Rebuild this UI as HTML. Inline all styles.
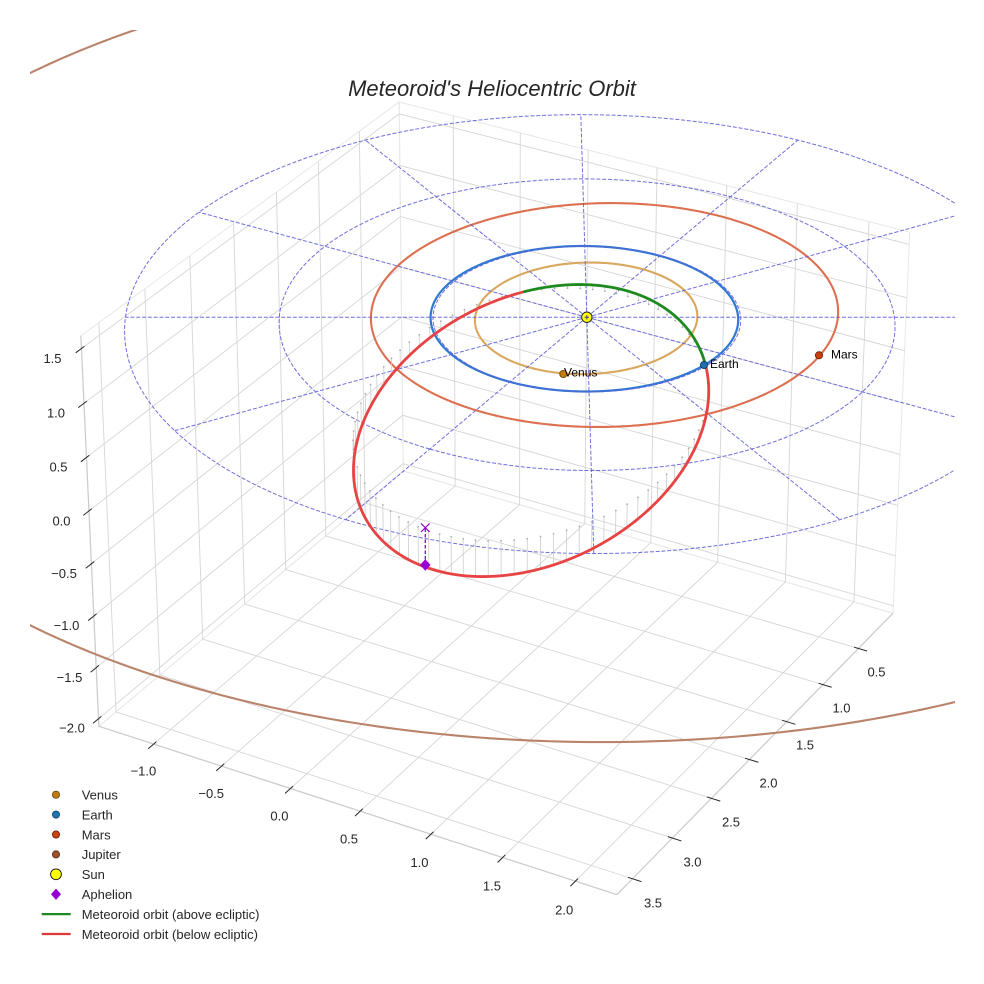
<!DOCTYPE html>
<html><head><meta charset="utf-8"><title>Meteoroid's Heliocentric Orbit</title>
<style>
html,body{margin:0;padding:0;background:#fff;width:984px;height:984px;overflow:hidden}
svg{display:block}
text{font-family:"Liberation Sans",Arial,sans-serif;fill:#262626}
</style></head><body>
<svg id="svg" xmlns="http://www.w3.org/2000/svg" width="984" height="984" viewBox="0 0 984 984">
<defs><clipPath id="clip"><rect x="30" y="30" width="925" height="925"/></clipPath></defs>
<rect width="984" height="984" fill="#fff"/>
<g id="panes" fill="none"></g>
<g id="data" clip-path="url(#clip)" fill="none"></g>
<g id="ticks" stroke="#262626" stroke-width="1" fill="none"></g>

<text x="492" y="96" font-size="22" font-style="italic" text-anchor="middle">Meteoroid's Heliocentric Orbit</text>

<g font-size="13" text-anchor="middle">
<text x="52.5" y="363">1.5</text>
<text x="56" y="417.7">1.0</text>
<text x="58.5" y="471.4">0.5</text>
<text x="61.5" y="525.4">0.0</text>
<text x="64" y="578">−0.5</text>
<text x="66.5" y="630">−1.0</text>
<text x="69.5" y="682">−1.5</text>
<text x="72" y="732.4">−2.0</text>

<text x="876.5" y="676.4">0.5</text>
<text x="841.5" y="712.4">1.0</text>
<text x="805" y="749.7">1.5</text>
<text x="768.5" y="787.4">2.0</text>
<text x="731" y="826.7">2.5</text>
<text x="692.5" y="866.4">3.0</text>
<text x="653" y="907.7">3.5</text>

<text x="143.4" y="775.4">−1.0</text>
<text x="211.2" y="798">−0.5</text>
<text x="279.4" y="820.7">0.0</text>
<text x="349" y="843.4">0.5</text>
<text x="419.5" y="867">1.0</text>
<text x="491.9" y="890.4">1.5</text>
<text x="564.2" y="914.7">2.0</text>
</g>

<g id="legend">
<circle cx="56" cy="794.7" r="3.6" fill="#c27c12" stroke="#5e3c05" stroke-width="0.8"/>
<circle cx="56" cy="814.6" r="3.6" fill="#1f77b4" stroke="#0c3655" stroke-width="0.8"/>
<circle cx="56" cy="834.5" r="3.6" fill="#c8440f" stroke="#5c1e05" stroke-width="0.8"/>
<circle cx="56" cy="854.4" r="3.6" fill="#a0522d" stroke="#4e2713" stroke-width="0.8"/>
<circle cx="56" cy="874.3" r="5.4" fill="#ffff00" stroke="#111" stroke-width="0.9"/>
<path d="M56 888.5L61 894.2L56 899.9L51 894.2Z" fill="#9400d3"/>
<path d="M41.7 914.1H70.7" stroke="#1f8a1f" stroke-width="2.2"/>
<path d="M41.7 934H70.7" stroke="#e03838" stroke-width="2.2"/>
<g font-size="13">
<text x="81.7" y="799.5">Venus</text>
<text x="81.7" y="819.4">Earth</text>
<text x="81.7" y="839.3">Mars</text>
<text x="81.7" y="859.2">Jupiter</text>
<text x="81.7" y="879.1">Sun</text>
<text x="81.7" y="899">Aphelion</text>
<text x="81.7" y="918.9">Meteoroid orbit (above ecliptic)</text>
<text x="81.7" y="938.8">Meteoroid orbit (below ecliptic)</text>
</g>
</g>

<g id="plabels" font-size="12">
<text x="564" y="376.5" style="fill:#000">Venus</text>
<text x="710" y="368" style="fill:#000">Earth</text>
<text x="831" y="358.5" style="fill:#000">Mars</text>
</g>
</svg>
<script>
(function(){
const D2R=Math.PI/180;
const el=30*D2R, az=30*D2R;
const ce=Math.cos(el),se=Math.sin(el),ca=Math.cos(az),sa=Math.sin(az);
const U=[-sa,ca,0],V=[-se*ca,-se*sa,ce],W=[ce*ca,ce*sa,se];
const X0=0.002,X1=3.692,Y0=-1.408,Y1=2.282,Z0=-2.075,Z1=1.615;
const AS=[8/7,8/7,6/7];
const MID=[(X0+X1)/2,(Y0+Y1)/2,(Z0+Z1)/2];
const SC=[AS[0]/(X1-X0),AS[1]/(Y1-Y0),AS[2]/(Z1-Z0)];
const S=5194,CX=503,CY=480,DIST=10;
function dot(a,b){return a[0]*b[0]+a[1]*b[1]+a[2]*b[2];}
function cross(a,b){return [a[1]*b[2]-a[2]*b[1],a[2]*b[0]-a[0]*b[2],a[0]*b[1]-a[1]*b[0]];}
function sub(a,b){return [a[0]-b[0],a[1]-b[1],a[2]-b[2]];}
function toQ(x,y,z){return [(x-MID[0])*SC[0],(y-MID[1])*SC[1],(z-MID[2])*SC[2]];}
function PQ(q){const d=DIST-dot(q,W);return [CX+S*dot(q,U)/d,CY-S*dot(q,V)/d];}
function P(x,y,z){return PQ(toQ(x,y,z));}
function f(n){return n.toFixed(2);}
function path(pts){let s='';for(let i=0;i<pts.length;i++){s+=(i?'L':'M')+f(pts[i][0])+' '+f(pts[i][1]);}return s;}
function line(a,b,attrs){return '<path d="M'+f(a[0])+' '+f(a[1])+'L'+f(b[0])+' '+f(b[1])+'" '+attrs+'/>';}
function solveN(A,b){const n=b.length;const M=A.map((r,i)=>r.slice(0,n).concat([b[i]]));
 for(let c=0;c<n;c++){let p=c;for(let r=c+1;r<n;r++)if(Math.abs(M[r][c])>Math.abs(M[p][c]))p=r;
  const t=M[c];M[c]=M[p];M[p]=t;
  for(let r=0;r<n;r++){if(r===c)continue;const k=M[r][c]/M[c][c];for(let j=c;j<=n;j++)M[r][j]-=k*M[c][j];}}
 return M.map((r,i)=>r[n]/r[i]);}

/* ---------- panes & grid ---------- */
let g='';
const xt=[0.5,1,1.5,2,2.5,3,3.5], yt=[-1,-0.5,0,0.5,1,1.5,2], zt=[-2,-1.5,-1,-0.5,0,0.5,1,1.5];
const PE='stroke="#e8e8e8" stroke-width="1"';
const GC='stroke="#d6d6d6" stroke-width="0.9"';
g+='<path d="'+path([P(X0,Y0,Z0),P(X1,Y0,Z0),P(X1,Y1,Z0),P(X0,Y1,Z0)])+'Z" '+PE+'/>';
g+='<path d="'+path([P(X0,Y0,Z0),P(X0,Y1,Z0),P(X0,Y1,Z1),P(X0,Y0,Z1)])+'Z" '+PE+'/>';
g+='<path d="'+path([P(X0,Y0,Z0),P(X1,Y0,Z0),P(X1,Y0,Z1),P(X0,Y0,Z1)])+'Z" '+PE+'/>';
xt.forEach(x=>{g+='<path d="'+path([P(x,Y1,Z0),P(x,Y0,Z0),P(x,Y0,Z1)])+'" '+GC+'/>';});
yt.forEach(y=>{g+='<path d="'+path([P(X1,y,Z0),P(X0,y,Z0),P(X0,y,Z1)])+'" '+GC+'/>';});
zt.forEach(z=>{g+='<path d="'+path([P(X1,Y0,z),P(X0,Y0,z),P(X0,Y1,z)])+'" '+GC+'/>';});
const AX='stroke="#cbcbcb" stroke-width="1.2"';
g+=line(P(X0,Y1,Z0),P(X1,Y1,Z0),AX);
g+=line(P(X1,Y0,Z0),P(X1,Y1,Z0),AX);
g+=line(P(X1,Y0,Z0),P(X1,Y0,Z1),AX);
document.getElementById('panes').innerHTML=g;

/* ---------- ticks ---------- */
let t='';
const DL=(X1-X0)/12;
xt.forEach(x=>{t+=line(P(x,Y1-0.1*DL,Z0),P(x,Y1+0.2*DL,Z0),'');});
yt.forEach(y=>{t+=line(P(X1-0.1*DL,y,Z0),P(X1+0.2*DL,y,Z0),'');});
zt.forEach(z=>{t+=line(P(X1-0.1*DL,Y0,z),P(X1+0.2*DL,Y0,z),'');});
document.getElementById('ticks').innerHTML=t;

/* ---------- data ---------- */
let d='';
function orbit(a,e,inc,O,wb,n){
  const om=(wb-O)*D2R, i=inc*D2R, Om=O*D2R, p=a*(1-e*e), pts=[];
  for(let k=0;k<=n;k++){const nu=2*Math.PI*k/n, r=p/(1+e*Math.cos(nu)), th=om+nu;
    const x=r*(Math.cos(Om)*Math.cos(th)-Math.sin(Om)*Math.sin(th)*Math.cos(i));
    const y=r*(Math.sin(Om)*Math.cos(th)+Math.cos(Om)*Math.sin(th)*Math.cos(i));
    const z=r*Math.sin(th)*Math.sin(i);
    pts.push(P(x,y,z));}
  return pts;}
// Jupiter
d+='<path d="'+path(orbit(5.202887,0.04838624,1.30439695,100.47390909,14.72847983,720))+'" stroke="#b9846b" stroke-width="2.1"/>';
// polar dashed grid
const DC='stroke="#5f5fd8" stroke-width="1" stroke-dasharray="4 1.8" stroke-opacity="0.9"';
let dg='';
[1,2,3].forEach(r=>{const pts=[];for(let k=0;k<=360;k++){const a=k*D2R;pts.push(P(r*Math.cos(a),r*Math.sin(a),0));}dg+='<path d="'+path(pts)+'" '+DC+'/>';});
for(let k=0;k<12;k++){const a=k*30*D2R;dg+=line(P(0,0,0),P(3*Math.cos(a),3*Math.sin(a),0),DC);}
// planet orbits
d+='<path d="'+path(orbit(0.72333566,0.00677672,3.39467605,76.67984255,131.60246718,360))+'" stroke="#d9a75e" stroke-width="2.1"/>';
d+='<path d="'+path(orbit(1.00000261,0.01671123,0,0,102.93768193,360))+'" stroke="#3079d2" stroke-width="2.2"/>';
d+='<path d="'+path(orbit(1.52371034,0.0933941,1.84969142,49.55953891,336.05637041,360))+'" stroke="#dc7050" stroke-width="2.1"/>';
d+=dg;

/* meteoroid orbit: conic fit to screen points */
const mp=[[470,313.3],[490,305],[510,298.3],[525,294],[543,289.3],[570,285],[587,284.5],[632,290.5],[665,303.5],[685,318],[699,340],[703.5,364],
[706,382],[706,393],[704,413],[700,433],[693,450],[682,464],[673,480],[660,499],[648,512],[632,526],[612,540],[595,549],[573,562],[540,570],[513,572.5],[485,573.5],[450,570.5],[425,565],[406,558],[390,550],[373,534],[363,510],[357,485],[355,465],[358,435],[366,410],[377,390],[400,363],[433,335]];
const ox=530,oy=430,ss=100;
const NM=[[0,0,0,0,0],[0,0,0,0,0],[0,0,0,0,0],[0,0,0,0,0],[0,0,0,0,0]],rv=[0,0,0,0,0];
mp.forEach(([X,Y])=>{const x=(X-ox)/ss,y=(Y-oy)/ss,row=[x*x,x*y,y*y,x,y];
  for(let i=0;i<5;i++){rv[i]+=row[i];for(let j=0;j<5;j++)NM[i][j]+=row[i]*row[j];}});
const [A,B,C,Dd,E]=solveN(NM,rv);
const det=4*A*C-B*B;
const xc=(B*E-2*C*Dd)/det, yc=(B*Dd-2*A*E)/det;
const K=1-(A*xc*xc+B*xc*yc+C*yc*yc+Dd*xc+E*yc);
const th=0.5*Math.atan2(B,A-C), ct=Math.cos(th), st=Math.sin(th);
const l1=A*ct*ct+B*ct*st+C*st*st, l2=A*st*st-B*st*ct+C*ct*ct;
const a1=Math.sqrt(K/l1), a2=Math.sqrt(K/l2);
function ell(tt){const c1=a1*Math.cos(tt), s1=a2*Math.sin(tt);
  return [ox+ss*(xc+c1*ct-s1*st), oy+ss*(yc+c1*st+s1*ct)];}
const Es=[704,365], Ns=[525,294];

/* plane for stems */
function rays(X,Y){const a=(X-CX)/S,b=(CY-Y)/S;
  return [[U[0]+a*W[0],U[1]+a*W[1],U[2]+a*W[2],10*a],[V[0]+b*W[0],V[1]+b*W[1],V[2]+b*W[2],10*b]];}
function invAtZ(X,Y,z){const r=rays(X,Y);const qz=(z-MID[2])*SC[2];
  const q=solveN([[r[0][0],r[0][1]],[r[1][0],r[1][1]]],[r[0][3]-r[0][2]*qz,r[1][3]-r[1][2]*qz]);return [q[0],q[1],qz];}
const QE=invAtZ(Es[0],Es[1],0), QN=invAtZ(Ns[0],Ns[1],0);
const QA=invAtZ(425.3,527.7,0);
{const r2=rays(425.3,565)[1];QA[2]=(r2[3]-r2[0]*QA[0]-r2[1]*QA[1])/r2[2];}
const nrm=cross(sub(QN,QE),sub(QA,QE)), cpl=dot(nrm,QE);
function toData(q){return [q[0]/SC[0]+MID[0],q[1]/SC[1]+MID[1],q[2]/SC[2]+MID[2]];}

// stems
let stems='', dots='';
const NS=85;
for(let k=0;k<NS;k++){const tt=2*Math.PI*k/NS;const p=ell(tt);
  const r=rays(p[0],p[1]);
  const q=solveN([[r[0][0],r[0][1],r[0][2]],[r[1][0],r[1][1],r[1][2]],[nrm[0],nrm[1],nrm[2]]],[r[0][3],r[1][3],cpl]);
  const dd=toData(q);const top=P(dd[0],dd[1],0);
  const len=Math.hypot(top[0]-p[0],top[1]-p[1]);
  if(len>1.2){stems+=line(p,top,'');dots+='<circle cx="'+f(top[0])+'" cy="'+f(top[1])+'" r="0.9"/>';}
}
d+='<g stroke="#cdcdcd" stroke-width="0.8">'+stems+'</g><g fill="#ababab">'+dots+'</g>';

// orbit segments: split at points nearest the two nodes
const NT=1200; const ep=[];
for(let k=0;k<NT;k++)ep.push(ell(2*Math.PI*k/NT));
let kE=0,kN=0,kT=0,dE=1e9,dN=1e9,yT=1e9;
ep.forEach((p,k)=>{const a=Math.hypot(p[0]-Es[0],p[1]-Es[1]),b=Math.hypot(p[0]-Ns[0],p[1]-Ns[1]);
  if(a<dE){dE=a;kE=k;} if(b<dN){dN=b;kN=k;} if(p[1]<yT){yT=p[1];kT=k;}});
function inArc(k,a,b){return a<=b?(k>=a&&k<=b):(k>=a||k<=b);}
function arc(a,b){const out=[];let k=a;for(let n=0;n<=NT;n++){out.push(ep[k]);if(k===b)break;k=(k+1)%NT;}return out;}
let ga,gb; if(inArc(kT,kN,kE)){ga=kN;gb=kE;}else{ga=kE;gb=kN;}
const greenPts=arc(ga,gb), redPts=arc(gb,ga);
d+='<path d="'+path(redPts)+'" stroke="#e84343" stroke-width="2.8" stroke-linecap="round" stroke-linejoin="round"/>';
d+='<path d="'+path(greenPts)+'" stroke="#1f8a1f" stroke-width="2.8" stroke-linecap="round" stroke-linejoin="round"/>';

// aphelion
d+='<path d="M425.3 528.5L425.3 560" stroke="#9400d3" stroke-width="1.3" stroke-dasharray="3.5 2"/>';
d+='<path d="M421 523.4L429.6 532M429.6 523.4L421 532" stroke="#9400d3" stroke-width="1.2"/>';
d+='<path d="M425.3 559.2L430.6 565L425.3 570.8L420 565Z" fill="#9400d3"/>';

// planets
d+='<circle cx="563.3" cy="374" r="3.6" fill="#c27c12" stroke="#5e3c05" stroke-width="0.8"/>';
d+='<circle cx="704" cy="365" r="3.6" fill="#1f6fb2" stroke="#0c3655" stroke-width="0.8"/>';
d+='<circle cx="819" cy="355.3" r="3.6" fill="#c8400e" stroke="#5c1e05" stroke-width="0.8"/>';
// sun
const sp=P(0,0,0);
d+='<circle cx="'+f(sp[0])+'" cy="'+f(sp[1])+'" r="5.2" fill="#ffff00" stroke="#222" stroke-width="1"/>';
d+='<path d="M'+f(sp[0]-2.2)+' '+f(sp[1])+'h4.4M'+f(sp[0])+' '+f(sp[1]-2.2)+'v4.4" stroke="#3a3aa8" stroke-width="1"/>';
document.getElementById('data').innerHTML=d;
})();
</script>
</body></html>
